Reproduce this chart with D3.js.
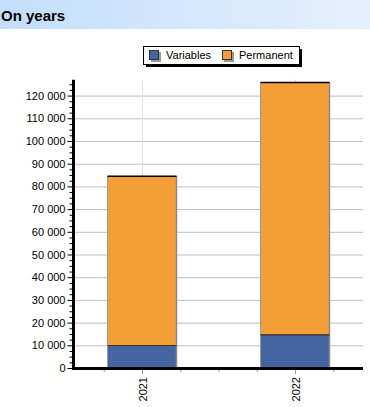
<!DOCTYPE html>
<html>
<head>
<meta charset="utf-8">
<script src="https://cdn.jsdelivr.net/npm/d3@7"></script>
<style>
  body { margin: 0; background: #fff; }
  text { font-family: Arial, "Liberation Sans", sans-serif; }
</style>
</head>
<body>
<div id="chart"></div>
<script>
// chart data
var years = ["2021", "2022"];
var variables = [10000, 14800];
var permanent = [74500, 111000];
var seriesNames = ["Variables", "Permanent"];
var seriesColors = ["#4565a0", "#f49e38"];
var yTicks = [0, 10000, 20000, 30000, 40000, 50000, 60000, 70000, 80000, 90000, 100000, 110000, 120000];

var W = 370, H = 407;

var svg = d3.select("#chart").append("svg")
    .attr("width", W)
    .attr("height", H);

// title band
var defs = svg.append("defs");
var grad = defs.append("linearGradient").attr("id", "tb");
grad.append("stop").attr("offset", "0%").attr("stop-color", "#c3defb");
grad.append("stop").attr("offset", "100%").attr("stop-color", "#e5f0fd");
svg.append("rect").attr("x", 0).attr("y", 0).attr("width", W).attr("height", 29)
    .attr("fill", "url(#tb)");
svg.append("text").attr("x", 1).attr("y", 21)
    .attr("font-size", "15px").attr("font-weight", "bold").attr("fill", "#000")
    .text("On years");

// scales
var y = d3.scaleLinear().domain([0, 127000]).range([368, 79.7]);
var x = d3.scaleLinear().domain([0, 1]).range([142, 295]);
var left = 73.5, right = 363;
var barW = 69;

// gridlines
svg.append("g").selectAll("line").data(yTicks.slice(1)).enter().append("line")
    .attr("x1", left).attr("x2", right)
    .attr("y1", function(d) { return y(d) + 0.5; })
    .attr("y2", function(d) { return y(d) + 0.5; })
    .attr("stroke", "#c0c0c0").attr("stroke-width", 1);
svg.append("g").selectAll("line").data([0, 1]).enter().append("line")
    .attr("x1", function(d) { return x(d) + 0.5; })
    .attr("x2", function(d) { return x(d) + 0.5; })
    .attr("y1", y(127000)).attr("y2", y(0))
    .attr("stroke", "#e2e2e2").attr("stroke-width", 1);

// stacked bars
var stack = years.map(function(yr, i) {
  return [
    {y0: 0, y1: variables[i], c: seriesColors[0], i: i},
    {y0: variables[i], y1: variables[i] + permanent[i], c: seriesColors[1], i: i}
  ];
});
var bars = svg.append("g");
stack.forEach(function(segs) {
  segs.forEach(function(s) {
    var x0 = x(s.i) - barW / 2;
    bars.append("rect")
        .attr("x", x0).attr("y", y(s.y1))
        .attr("width", barW).attr("height", y(s.y0) - y(s.y1))
        .attr("fill", s.c);
    // side edges
    bars.append("line").attr("x1", x0).attr("x2", x0)
        .attr("y1", y(s.y1)).attr("y2", y(s.y0))
        .attr("stroke", "#9a9a9a").attr("stroke-width", 1);
    bars.append("line").attr("x1", x0 + barW).attr("x2", x0 + barW)
        .attr("y1", y(s.y1)).attr("y2", y(s.y0))
        .attr("stroke", "#8a8a8a").attr("stroke-width", 1.5);
    // top edge
    bars.append("line").attr("x1", x0).attr("x2", x0 + barW)
        .attr("y1", y(s.y1)).attr("y2", y(s.y1))
        .attr("stroke", "#000").attr("stroke-width", 1.5);
  });
});

// y axis
var yAxis = d3.axisLeft(y).tickValues(yTicks).tickSize(6).tickPadding(2)
    .tickFormat(function(d) { return d3.format(",")(d).replace(/,/g, " "); });
var gy = svg.append("g").attr("transform", "translate(" + left + ",0)").call(yAxis);
gy.select(".domain").remove();
gy.selectAll("text").attr("font-size", "11px").attr("fill", "#000").attr("font-family", "Arial, 'Liberation Sans', sans-serif");
gy.selectAll("line").attr("stroke", "#000");
// minor ticks
var minor = d3.range(2500, 127000, 2500).filter(function(d) { return d % 10000 !== 0; });
svg.append("g").selectAll("line").data(minor).enter().append("line")
    .attr("x1", left - 4).attr("x2", left)
    .attr("y1", function(d) { return y(d) + 0.5; })
    .attr("y2", function(d) { return y(d) + 0.5; })
    .attr("stroke", "#000");
svg.append("line").attr("x1", left).attr("x2", left)
    .attr("y1", y(127000)).attr("y2", y(0) + 1.5)
    .attr("stroke", "#000").attr("stroke-width", 3);

// x axis
var xTicks = d3.range(-0.25, 1.3, 0.25);
svg.append("g").selectAll("line").data(xTicks).enter().append("line")
    .attr("x1", function(d) { return x(d) + 0.5; })
    .attr("x2", function(d) { return x(d) + 0.5; })
    .attr("y1", y(0)).attr("y2", function(d) { return y(0) + (Math.abs(d % 1) < 1e-6 ? 6 : 4); })
    .attr("stroke", "#999");
svg.append("line").attr("x1", left - 1.5).attr("x2", right)
    .attr("y1", y(0) + 0.5).attr("y2", y(0) + 0.5)
    .attr("stroke", "#000").attr("stroke-width", 3);
svg.append("g").selectAll("text").data(years).enter().append("text")
    .attr("transform", function(d, i) { return "translate(" + (x(i) + 4.5) + "," + 377 + ") rotate(-90)"; })
    .attr("text-anchor", "end")
    .attr("font-size", "11px").attr("fill", "#000")
    .text(function(d) { return d; });

// legend
var lg = svg.append("g").attr("transform", "translate(143,46)");
lg.append("rect").attr("x", 3).attr("y", 3).attr("width", 156).attr("height", 18).attr("fill", "#000");
lg.append("rect").attr("x", 0.5).attr("y", 0.5).attr("width", 156).attr("height", 18)
    .attr("fill", "#fff").attr("stroke", "#000");
var lx = [6, 79];
seriesNames.forEach(function(n, i) {
  lg.append("rect").attr("x", lx[i] + 2).attr("y", 6).attr("width", 10).attr("height", 10).attr("fill", "#999");
  lg.append("rect").attr("x", lx[i] + 0.5).attr("y", 4.5).attr("width", 9).attr("height", 9)
      .attr("fill", seriesColors[i]).attr("stroke", "#333");
  lg.append("text").attr("x", lx[i] + 17).attr("y", 13)
      .attr("font-size", "11px").attr("fill", "#000").text(n);
});
</script>
</body>
</html>
